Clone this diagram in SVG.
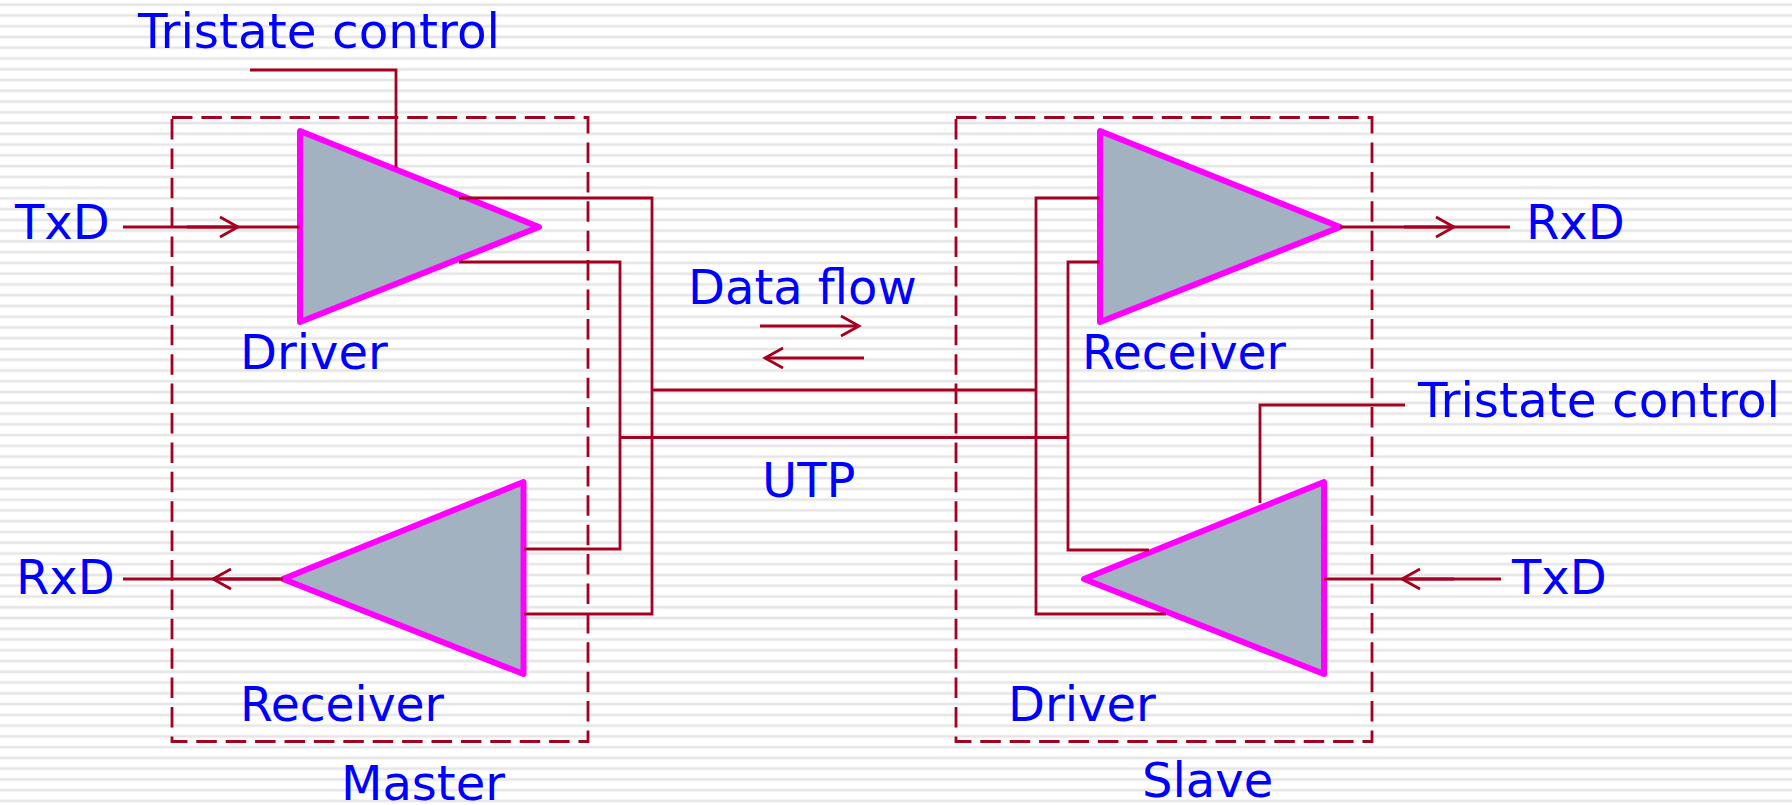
<svg xmlns="http://www.w3.org/2000/svg" width="1792" height="805" viewBox="0 0 1792 805">
<defs>
<pattern id="stripes" width="1792" height="10.76" patternUnits="userSpaceOnUse" y="2.7">
<rect width="1792" height="4" y="0" fill="#f6f6f6"/>
<rect width="1792" height="2" y="1" fill="#e6e6e6"/>
</pattern>
<marker id="open" markerUnits="userSpaceOnUse" markerWidth="22" markerHeight="24" refX="19" refY="12" orient="auto">
<path d="M1 2 L19 12 L1 22" fill="none" stroke="#a50021" stroke-width="2.8"/>
</marker>
</defs>
<style>
text{font-family:"DejaVu Sans",Verdana,sans-serif;font-size:48px;fill:#0000ff}
.w{fill:none;stroke:#a50021;stroke-width:2.8}
.box{fill:none;stroke:#a50021;stroke-width:2.8;stroke-dasharray:20.500 8.900}
.tri{fill:#a2b2c1;stroke:#ff00ff;stroke-width:6;stroke-linejoin:round}
</style>
<rect width="1792" height="805" fill="#ffffff"/>
<rect width="1792" height="805" fill="url(#stripes)"/>
<g id="master"><rect class="box" x="172" y="117.500" width="416" height="624"/><text x="341" y="800">Master</text></g>
<g id="slave"><rect class="box" x="956" y="117.500" width="416" height="624"/><text x="1142" y="797">Slave</text></g>
<g id="driver-master"><path class="tri" d="M300 131V322L539 227Z"/><text x="240" y="369">Driver</text></g>
<g id="receiver-master"><path class="tri" d="M523.500 482V674L283 579Z"/><text x="240" y="721" textLength="204" lengthAdjust="spacingAndGlyphs">Receiver</text></g>
<g id="receiver-slave"><path class="tri" d="M1100 131V322L1340 227Z"/><text x="1082" y="369" textLength="204" lengthAdjust="spacingAndGlyphs">Receiver</text></g>
<g id="driver-slave"><path class="tri" d="M1324 482V674L1084 579Z"/><text x="1008" y="721">Driver</text></g>
<g id="connectors">
<path class="w" d="M250 70H396V168"/>
<path class="w" d="M123 227H300"/><path class="w" d="M187 227H238" marker-end="url(#open)"/>
<path class="w" d="M459 198H652V614H524"/>
<path class="w" d="M459 262H620V549H524"/>
<path class="w" d="M652 390H1036"/><path class="w" d="M620 437.500H1068"/>
<path class="w" d="M1100 198H1036V614H1166"/>
<path class="w" d="M1100 262H1068V550H1149"/>
<path class="w" d="M1340 227H1510"/><path class="w" d="M1404 227H1454" marker-end="url(#open)"/>
<path class="w" d="M123 579H283"/><path class="w" d="M280 579H213" marker-end="url(#open)"/>
<path class="w" d="M1501 579H1324"/><path class="w" d="M1454 579H1402" marker-end="url(#open)"/>
<path class="w" d="M1405 405H1260V503"/>
<path class="w" d="M760 326H859" marker-end="url(#open)"/>
<path class="w" d="M864 358H765" marker-end="url(#open)"/>
</g>
<g id="labels">
<text x="138" y="48" textLength="362" lengthAdjust="spacingAndGlyphs">Tristate control</text>
<text x="15" y="239">TxD</text>
<text x="16" y="594">RxD</text>
<text x="1526" y="239">RxD</text>
<text x="1512" y="594">TxD</text>
<text x="1418" y="417" textLength="362" lengthAdjust="spacingAndGlyphs">Tristate control</text>
<text x="688" y="304">Data flow</text>
<text x="762" y="497">UTP</text>
</g>
</svg>
